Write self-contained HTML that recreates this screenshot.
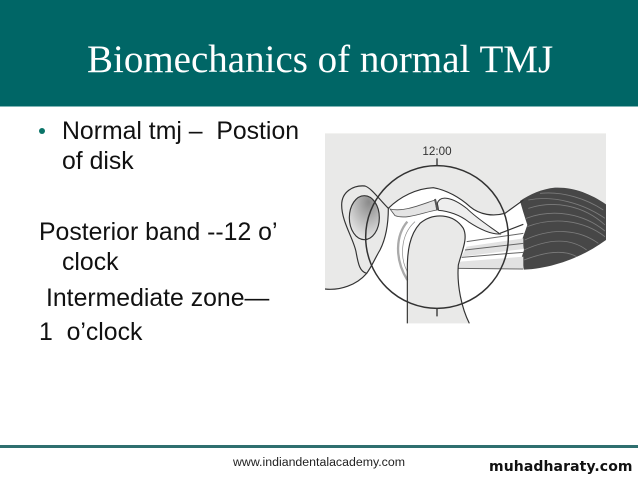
<!DOCTYPE html>
<html><head><meta charset="utf-8"><style>
html,body{margin:0;padding:0;background:#fff}
#p{position:relative;width:638px;height:479px;overflow:hidden;background:#fff}
.t{position:absolute;white-space:pre;font-family:"Liberation Sans",sans-serif;color:#111;font-size:24.8px;line-height:28px}
</style></head><body><div id="p">
<div style="position:absolute;left:0;top:0;width:638px;height:106px;background:#006666"></div>
<div style="position:absolute;left:0;top:106px;width:638px;height:1px;background:#7fb5b5"></div>
<div class="t" style="left:87px;top:38px;font-family:'Liberation Serif',serif;color:#fff;font-size:39px;line-height:44px">Biomechanics of normal TMJ</div>
<div style="position:absolute;left:39px;top:128px;width:6px;height:6px;border-radius:50%;background:#0a7468"></div>
<div class="t" style="left:62px;top:118px">Normal tmj –  Postion</div>
<div class="t" style="left:62px;top:148px">of disk</div>
<div class="t" style="left:39px;top:219px">Posterior band --12 o’</div>
<div class="t" style="left:62px;top:249px">clock</div>
<div class="t" style="left:46px;top:285px">Intermediate zone—</div>
<div class="t" style="left:39px;top:319px">1  o’clock</div>
<svg style="position:absolute;left:320px;top:125px" width="318" height="210" viewBox="0 0 954 630">
<defs><radialGradient id="g" cx="65%" cy="15%" r="85%"><stop offset="0" stop-color="#8a8a8a"/><stop offset="1" stop-color="#e6e6e6"/></radialGradient>
<filter id="b" x="0" y="0" width="100%" height="100%"><feGaussianBlur stdDeviation="1"/></filter></defs>
<g filter="url(#b)">
<path d="M15 25H858V240C800 195 750 185 700 190C660 195 620 215 590 235L555 265C520 275 480 270 450 245C420 218 380 195 340 188C290 190 240 215 205 250C205 300 195 345 180 375C165 400 155 425 140 445C110 480 60 497 15 492Z" fill="#e9e9e8"/>
<path d="M262 595V430C262 380 268 330 300 295C340 262 400 265 430 310C445 340 425 380 415 420C410 480 425 550 448 595Z" fill="#e9e9e8"/>
<path d="M205 250C240 215 290 190 340 188C380 195 420 218 450 245C480 270 520 275 555 265L610 225L610 430L415 430L440 340L430 310C400 265 340 262 300 295C268 330 262 380 262 470C235 430 215 400 210 350C205 310 205 280 205 250Z" fill="#fff"/>
<path d="M600 228C630 208 665 192 705 188C760 186 810 205 858 238V345C790 395 700 430 612 434L604 400L612 375L606 345L622 300L610 262Z" fill="#474747"/>
<g fill="none" stroke="#7c7c7c" stroke-width="2.5">
<path d="M625 225C700 210 790 235 855 280"/><path d="M625 250C700 225 790 240 855 300"/><path d="M618 280C700 250 790 265 855 318"/><path d="M622 305C700 275 790 285 855 335"/><path d="M614 345C700 305 780 315 835 355"/><path d="M612 375C700 335 760 345 800 375"/><path d="M612 405C690 375 740 378 770 395"/><path d="M660 205C730 198 800 222 850 255"/>
</g>
<path d="M352 235C360 210 395 215 440 250C470 280 510 305 540 327C510 328 475 310 445 290C420 270 385 258 356 256Z" fill="#eeeeee" stroke="#333" stroke-width="3"/>
<path d="M210 252C250 262 300 240 345 225L350 255C310 262 260 285 225 272Z" fill="#e4e4e4" stroke="#555" stroke-width="2.5"/>
<path d="M345 222L353 256" stroke="#555" stroke-width="6" fill="none"/>
<path d="M262 290C228 330 222 400 262 465" fill="none" stroke="#aaa" stroke-width="7"/>
<path d="M285 290C240 330 240 400 262 440" fill="none" stroke="#888" stroke-width="2"/>
<path d="M440 365L610 340V372L425 395ZM420 410L610 395V430L415 430Z" fill="#e2e2e2"/>
<path d="M440 350L610 325M435 375L610 355M425 397L610 382M415 430L610 432" fill="none" stroke="#666" stroke-width="3"/>
<g fill="none" stroke="#333" stroke-width="3.5">
<path d="M262 595V430C262 380 268 330 300 295C340 262 400 265 430 310C445 340 425 380 415 420C410 480 425 550 448 595"/>
<path d="M205 250C240 215 290 190 340 188C380 195 420 218 450 245C480 270 520 275 555 265L610 225"/>
<path d="M15 492C60 497 110 480 140 445C120 440 115 420 108 380C100 340 65 290 65 240C65 200 100 180 135 183C155 190 175 220 205 250C205 300 195 345 180 375C165 400 155 425 140 445"/>
<ellipse cx="133" cy="278" rx="45" ry="66" fill="url(#g)"/>
<circle cx="351" cy="336" r="214" stroke-width="4.5"/>
<path d="M351 100V122M351 552V574" stroke-width="4"/>
<path d="M540 325L610 298" />
</g>
</g>
<text x="351" y="90" text-anchor="middle" font-family="Liberation Sans, sans-serif" font-size="35" fill="#333">12:00</text>
</svg>
<div style="position:absolute;left:0;top:445px;width:638px;height:3px;background:#2f6f6f"></div>
<div class="t" style="left:233px;top:455px;font-size:12.35px;line-height:15px;color:#222">www.indiandentalacademy.com</div>
<div class="t" style="left:489px;top:457px;font-size:14px;line-height:20px;font-family:'DejaVu Sans',sans-serif;font-weight:bold;color:#111;letter-spacing:.1px">muhadharaty.com</div>
</div></body></html>
